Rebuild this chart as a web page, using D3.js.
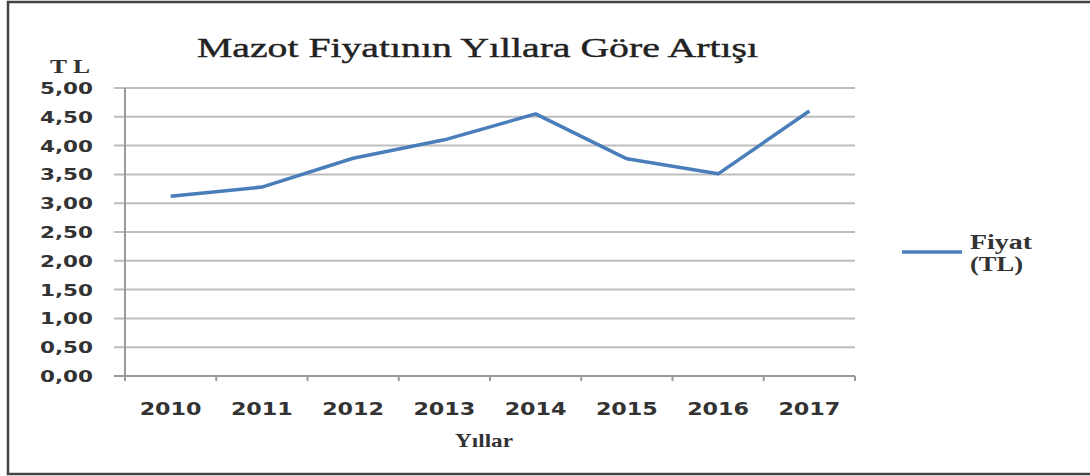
<!DOCTYPE html>
<html><head><meta charset="utf-8">
<script src="https://cdn.jsdelivr.net/npm/d3@7"></script>
<style>body{margin:0;background:#fff}svg{display:block}</style>
</head><body>
<svg id="c" width="1090" height="476"></svg>
<script>
const years = ["2010","2011","2012","2013","2014","2015","2016","2017"];
const prices = [3.12, 3.28, 3.78, 4.10, 4.55, 3.77, 3.51, 4.60];
const yTicks = [0,0.5,1,1.5,2,2.5,3,3.5,4,4.5,5];
const title = "Mazot Fiyatının Yıllara Göre Artışı";
const yTitle = "T L";
const xTitle = "Yıllar";
const seriesName = ["Fiyat","(TL)"];

(function(){
const svg = d3.select("#c");
// frame
svg.append("path").attr("d","M1092,2 H8 V474 H1092").attr("fill","none").attr("stroke","#444").attr("stroke-width",2.5);

const pL = 125, pR = 855, pT = 88, pB = 376;
const x = d3.scaleBand().domain(years).range([pL,pR]);
const y = d3.scaleLinear().domain([0,5]).range([pB,pT]);
const fmt = v => d3.format(".2f")(v).replace(".",",");
const textCol = "#333";

// gridlines
svg.append("g").selectAll("line").data(yTicks).join("line")
  .attr("x1",114).attr("x2",pR).attr("y1",d=>y(d)).attr("y2",d=>y(d))
  .attr("stroke","#bdbdbd").attr("stroke-width",2);

// y axis line
svg.append("line").attr("x1",pL).attr("x2",pL).attr("y1",pT).attr("y2",pB+5)
  .attr("stroke","#9a9a9a").attr("stroke-width",2);
// x axis line + ticks
svg.append("line").attr("x1",114).attr("x2",pR).attr("y1",pB).attr("y2",pB)
  .attr("stroke","#9a9a9a").attr("stroke-width",2);
const xt = years.map(d=>x(d)).concat([pR]);
svg.append("g").selectAll("line").data(xt).join("line")
  .attr("x1",d=>d).attr("x2",d=>d).attr("y1",pB).attr("y2",pB+5)
  .attr("stroke","#9a9a9a").attr("stroke-width",2);

// y tick labels
svg.append("g").selectAll("text").data(yTicks).join("text")
  .attr("x",93).attr("y",d=>y(d)+6).attr("text-anchor","end")
  .attr("font-family","DejaVu Sans").attr("font-weight","bold").attr("font-size",16)
  .attr("textLength",53).attr("lengthAdjust","spacingAndGlyphs")
  .attr("fill",textCol).text(d=>fmt(d));

// x tick labels
svg.append("g").selectAll("text").data(years).join("text")
  .attr("x",d=>x(d)+x.bandwidth()/2-31).attr("y",415)
  .attr("font-family","DejaVu Sans").attr("font-weight","bold").attr("font-size",18)
  .attr("textLength",62).attr("lengthAdjust","spacingAndGlyphs")
  .attr("fill",textCol).text(d=>d);

// line
const line = d3.line().x((d,i)=>x(years[i])+x.bandwidth()/2).y(d=>y(d));
svg.append("path").datum(prices).attr("d",line).attr("fill","none")
  .attr("stroke","#4a7ebb").attr("stroke-width",3.5).attr("stroke-linejoin","round");

// title
svg.append("text").attr("x",197).attr("y",57)
  .attr("font-family","Liberation Serif").attr("font-size",27)
  .attr("textLength",561).attr("lengthAdjust","spacingAndGlyphs")
  .attr("fill","#222").attr("stroke","#222").attr("stroke-width",0.4).text(title);

// y title
svg.append("text").attr("x",50).attr("y",73)
  .attr("font-family","Liberation Serif").attr("font-weight","bold").attr("font-size",19)
  .attr("textLength",40).attr("lengthAdjust","spacingAndGlyphs")
  .attr("fill",textCol).text(yTitle);

// x title
svg.append("text").attr("x",455).attr("y",447)
  .attr("font-family","Liberation Serif").attr("font-weight","bold").attr("font-size",19)
  .attr("textLength",58).attr("lengthAdjust","spacingAndGlyphs")
  .attr("fill",textCol).text(xTitle);

// legend
svg.append("line").attr("x1",902).attr("x2",962).attr("y1",252).attr("y2",252)
  .attr("stroke","#4a7ebb").attr("stroke-width",3.5);
const legendLen = [62, 53];
svg.append("g").selectAll("text").data(seriesName).join("text")
  .attr("x",970).attr("y",(d,i)=>249+i*22)
  .attr("font-family","Liberation Serif").attr("font-weight","bold").attr("font-size",20)
  .attr("textLength",(d,i)=>legendLen[i]).attr("lengthAdjust","spacingAndGlyphs")
  .attr("fill",textCol).text(d=>d);
})();
</script>
</body></html>
